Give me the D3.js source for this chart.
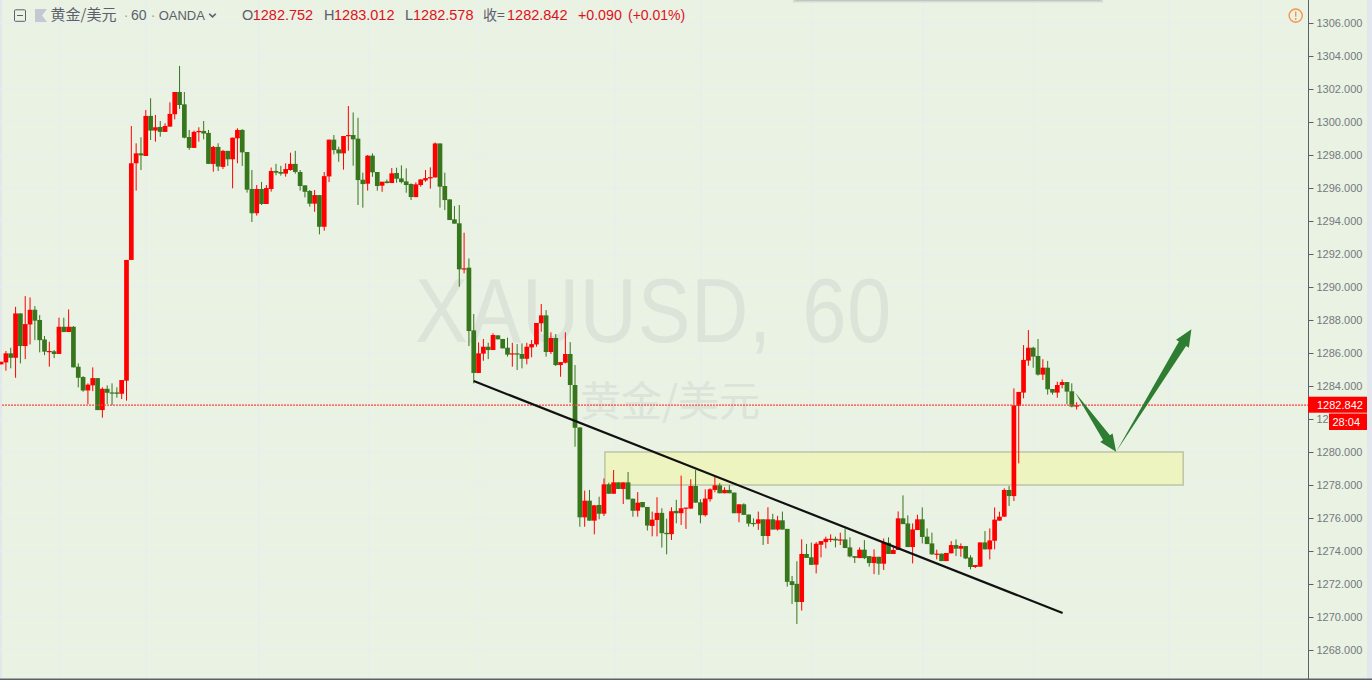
<!DOCTYPE html>
<html><head><meta charset="utf-8">
<style>html,body{margin:0;padding:0;background:#e9f2e3;overflow:hidden}svg{display:block}text{font-family:"Liberation Sans",Arial,sans-serif}</style>
<script src="https://cdnjs.cloudflare.com/ajax/libs/d3/7.8.5/d3.min.js"></script>
</head><body><svg id="c" width="1372" height="680"></svg>
<script>
const opens=[1285.31,1285.43,1285.98,1285.71,1288.40,1286.42,1287.73,1288.62,1288.00,1286.82,
1286.06,1286.10,1285.94,1287.59,1287.27,1287.59,1285.17,1284.54,1283.73,1284.04,
1284.48,1282.54,1283.83,1283.61,1283.61,1283.53,1284.32,1291.64,1297.50,1298.10,
1297.94,1300.37,1299.48,1299.70,1299.40,1299.72,1300.47,1301.82,1301.07,1299.09,
1298.43,1299.38,1299.46,1299.34,1297.46,1298.49,1297.28,1298.25,1297.74,1299.01,
1299.52,1298.18,1295.94,1294.47,1295.94,1295.03,1295.94,1297.03,1296.97,1296.87,
1297.09,1297.46,1296.97,1296.16,1295.82,1295.05,1295.57,1293.65,1296.70,1298.93,
1298.34,1298.10,1299.15,1299.21,1298.99,1296.50,1296.26,1297.96,1296.97,1296.14,
1296.40,1296.30,1296.91,1296.58,1296.40,1296.24,1295.45,1296.18,1296.46,1296.58,
1296.64,1298.70,1296.12,1295.31,1294.10,1293.86,1291.07,1291.17,1287.37,1284.79,
1285.96,1286.38,1286.18,1287.07,1286.85,1286.32,1285.92,1285.98,1285.94,1285.65,
1286.34,1286.52,1287.80,1288.28,1286.06,1286.91,1285.27,1285.41,1285.94,1284.06,
1281.49,1276.04,1277.05,1275.84,1276.79,1276.26,1278.04,1277.47,1278.16,1277.76,
1278.16,1277.17,1276.44,1276.97,1276.67,1275.52,1275.88,1276.31,1275.10,1275.02,
1276.43,1276.29,1276.57,1276.57,1277.94,1276.95,1276.17,1277.14,1277.70,1277.98,
1277.50,1277.70,1277.54,1276.29,1276.83,1276.21,1275.70,1275.66,1275.92,1274.91,
1275.92,1275.30,1275.86,1275.34,1272.17,1272.01,1270.91,1273.82,1273.62,1273.17,
1274.38,1274.54,1274.68,1274.74,1274.64,1274.70,1274.22,1273.69,1273.57,1274.08,
1273.69,1273.27,1273.65,1273.23,1274.50,1273.82,1274.06,1275.98,1275.67,1274.24,
1275.27,1275.92,1274.87,1274.46,1273.78,1273.84,1273.39,1273.86,1274.36,1274.14,
1274.30,1273.61,1273.03,1273.05,1274.52,1274.10,1274.62,1275.84,1276.08,1277.70,
1277.33,1282.79,1283.60,1285.54,1286.32,1285.82,1284.69,1285.11,1283.82,1283.60,
1284.06,1284.24,1283.68,1282.752];
const closes=[1285.47,1285.98,1285.71,1288.40,1286.42,1287.75,1288.62,1287.96,1286.78,1286.08,
1286.12,1285.94,1287.59,1287.27,1287.59,1285.13,1284.50,1283.73,1284.08,1284.48,
1282.54,1283.83,1283.59,1283.57,1283.53,1284.36,1291.64,1297.50,1298.10,1297.98,
1300.37,1299.48,1299.68,1299.40,1299.76,1300.49,1301.82,1301.03,1299.05,1298.43,
1299.40,1299.46,1299.30,1297.46,1298.49,1297.30,1298.25,1297.74,1299.05,1299.52,
1298.16,1295.90,1294.47,1295.94,1295.03,1296.00,1297.03,1296.93,1296.87,1297.15,
1297.46,1296.97,1296.12,1295.77,1295.05,1295.57,1293.65,1296.72,1298.93,1298.30,
1298.10,1299.15,1299.21,1298.95,1296.48,1296.24,1297.96,1296.95,1296.12,1296.38,
1296.30,1296.89,1296.56,1296.36,1296.18,1295.45,1296.22,1296.52,1296.60,1296.66,
1298.70,1296.08,1295.27,1294.06,1293.84,1291.07,1291.13,1287.33,1284.79,1285.98,
1286.38,1286.18,1287.09,1286.83,1286.28,1285.90,1285.98,1285.92,1285.65,1286.38,
1286.54,1287.82,1288.28,1286.06,1286.91,1285.27,1285.45,1285.94,1284.06,1281.47,
1276.04,1277.05,1275.84,1276.77,1276.26,1278.04,1277.47,1278.16,1277.76,1278.16,
1277.13,1276.44,1276.93,1276.65,1275.54,1275.90,1276.31,1275.08,1275.02,1276.41,
1276.29,1276.59,1276.63,1277.94,1276.93,1276.17,1277.18,1277.74,1277.98,1277.50,
1277.70,1277.50,1276.29,1276.83,1276.19,1275.66,1275.64,1275.92,1274.91,1275.92,
1275.30,1275.86,1275.30,1272.13,1271.94,1270.91,1273.82,1273.58,1273.16,1274.44,
1274.60,1274.74,1274.74,1274.64,1274.70,1274.18,1273.67,1273.59,1274.08,1273.57,
1273.27,1273.65,1273.23,1274.50,1273.82,1274.06,1275.98,1275.63,1274.24,1275.31,
1275.92,1274.85,1274.42,1273.80,1273.84,1273.39,1273.88,1274.36,1274.14,1274.30,
1273.55,1273.03,1273.15,1274.52,1274.10,1274.64,1275.90,1276.08,1277.70,1277.33,
1282.83,1283.64,1285.58,1286.32,1285.78,1284.69,1285.11,1283.80,1283.60,1284.06,
1284.24,1283.66,1282.75,1282.842];
const highs=[1285.47,1286.12,1286.32,1288.80,1288.40,1289.45,1289.37,1288.84,1288.30,1287.03,
1286.68,1286.18,1288.14,1288.14,1288.64,1287.63,1285.37,1284.60,1284.16,1285.13,
1284.48,1283.92,1284.04,1284.16,1283.92,1284.36,1291.64,1299.76,1298.71,1299.07,
1300.73,1301.44,1300.43,1300.06,1299.92,1301.19,1301.82,1303.40,1301.82,1299.52,
1299.48,1299.68,1300.06,1299.52,1298.55,1298.71,1298.31,1298.25,1299.05,1299.62,
1299.56,1298.18,1297.09,1296.18,1296.37,1296.18,1297.24,1297.46,1297.34,1297.50,
1298.14,1298.25,1297.09,1296.16,1295.88,1295.88,1295.57,1296.97,1298.93,1299.21,
1298.50,1299.15,1300.97,1300.58,1300.26,1296.93,1298.00,1298.10,1296.97,1296.38,
1296.52,1297.21,1297.23,1297.37,1297.19,1296.28,1296.34,1296.52,1297.09,1297.25,
1298.76,1298.70,1296.93,1295.31,1294.91,1294.97,1293.29,1291.73,1288.36,1286.64,
1286.85,1286.62,1287.19,1287.07,1286.85,1286.93,1286.62,1286.54,1286.58,1286.62,
1286.79,1287.82,1288.97,1288.60,1287.25,1287.15,1285.45,1287.25,1286.66,1285.27,
1281.49,1277.66,1277.70,1276.77,1277.29,1278.40,1278.14,1278.91,1278.16,1278.16,
1278.79,1277.17,1277.57,1276.97,1276.67,1276.39,1277.26,1276.59,1275.96,1276.65,
1277.10,1278.57,1276.63,1278.35,1278.91,1277.14,1277.74,1277.80,1278.51,1278.11,
1277.86,1277.98,1277.54,1276.83,1276.89,1276.21,1275.98,1276.39,1275.92,1276.65,
1276.25,1276.13,1276.39,1275.34,1272.49,1273.38,1274.71,1274.43,1274.51,1274.54,
1274.60,1274.87,1275.01,1274.87,1275.11,1275.35,1274.83,1273.69,1274.22,1274.66,
1273.69,1274.10,1273.65,1274.76,1274.83,1274.26,1276.40,1277.37,1276.16,1275.67,
1276.20,1276.64,1275.37,1275.11,1274.08,1273.84,1273.88,1274.60,1274.70,1274.46,
1274.30,1273.75,1273.15,1274.52,1275.21,1275.37,1276.64,1276.38,1277.80,1277.94,
1283.86,1283.64,1286.48,1287.39,1286.38,1286.85,1285.62,1285.52,1283.82,1284.26,
1284.40,1284.24,1284.16,1283.012];
const lows=[1285.31,1284.93,1285.07,1284.50,1285.37,1285.63,1286.52,1286.78,1286.04,1285.87,
1285.17,1285.69,1285.94,1287.27,1287.27,1285.13,1283.92,1283.65,1282.91,1283.69,
1282.54,1282.08,1282.91,1282.84,1283.29,1283.21,1283.11,1291.64,1295.84,1297.09,
1297.94,1298.91,1298.81,1299.11,1299.40,1299.72,1300.16,1300.79,1299.01,1298.31,
1298.43,1298.81,1298.95,1297.46,1296.99,1297.03,1297.15,1297.34,1295.98,1297.50,
1297.34,1295.72,1293.94,1294.33,1294.97,1295.03,1295.78,1296.77,1296.75,1296.69,
1297.05,1296.87,1295.84,1295.43,1294.87,1294.56,1293.19,1293.41,1296.36,1298.04,
1297.59,1297.11,1298.26,1297.35,1294.97,1294.81,1295.84,1296.68,1295.84,1295.77,
1296.28,1296.30,1296.32,1296.28,1295.71,1295.27,1295.45,1296.08,1296.38,1295.96,
1296.64,1294.81,1294.66,1294.06,1293.84,1290.02,1290.83,1286.42,1284.16,1284.79,
1285.53,1285.63,1286.18,1286.83,1286.28,1285.78,1285.17,1284.97,1285.07,1285.31,
1285.74,1286.38,1287.29,1285.78,1285.94,1285.21,1284.56,1285.37,1282.99,1280.32,
1275.47,1275.47,1275.84,1275.01,1275.92,1276.12,1277.47,1277.47,1277.76,1276.85,
1277.13,1276.08,1276.08,1276.65,1275.24,1274.89,1274.89,1274.21,1273.80,1274.67,
1275.68,1275.58,1275.34,1276.57,1276.93,1275.68,1276.09,1276.99,1277.56,1277.50,
1277.50,1277.50,1276.29,1275.74,1276.19,1275.48,1275.48,1275.28,1274.37,1274.43,
1275.30,1275.24,1275.30,1271.84,1270.79,1269.58,1270.39,1273.58,1273.16,1272.64,
1273.61,1274.16,1274.54,1274.22,1274.36,1274.18,1273.61,1273.27,1273.57,1273.51,
1273.05,1272.60,1272.56,1272.85,1273.82,1273.82,1274.06,1275.63,1274.24,1273.25,
1275.27,1274.46,1274.42,1273.76,1273.49,1273.39,1273.39,1273.86,1273.69,1273.65,
1273.51,1272.89,1272.97,1273.05,1274.10,1273.49,1274.10,1275.84,1276.08,1276.73,
1277.03,1279.31,1283.25,1285.23,1285.11,1284.63,1284.36,1283.48,1283.48,1283.29,
1283.86,1282.89,1282.71,1282.578];
const priceTicks=[1306,1304,1302,1300,1298,1296,1294,1292,1290,1288,1286,1284,1282,1280,1278,1276,1274,1272,1270,1268];
const gridBars=[12.2,30.05,53.5,76.3,99.3,127.3,145.1,168.1,191.2,214.2,242.2,261.2];
const zoneBars=[125.2,245.1], zonePrices=[1280,1278];
const trendBars=[98,220.1], trendPrices=[1284.3,1270.24];
const arrowBars=[222.7,231.2,246.8], arrowPrices=[1283.6,1280.02,1287.44];
const lastPrice=1282.842, countdown="28:04";
const watermark="XAUUSD, 60", watermarkSub="黄金/美元";

const svg=d3.select("#c");
const W=1372,H=680,axisX=1308.5;
const x=d3.scaleLinear().domain([0,223]).range([1.1,1076.6]);
const y=d3.scaleLinear().domain([1268,1306]).range([650,23]);
const bg="#e9f2e3",red="#ff0000",green="#38761d",grey="#5d606b";
svg.append("rect").attr("width",W).attr("height",H).attr("fill",bg);
svg.append("rect").attr("x",0).attr("y",0).attr("width",2).attr("height",H).attr("fill","#e2e7ec");
svg.append("rect").attr("x",1367).attr("y",0).attr("width",5).attr("height",H).attr("fill","#e2e7ee");
// grid
const gc="#e5eef0";
svg.append("g").selectAll("line").data(priceTicks).join("line")
 .attr("x1",0).attr("x2",axisX).attr("y1",d=>y(d)).attr("y2",d=>y(d)).attr("stroke",gc).attr("stroke-width",1);
svg.append("g").selectAll("line").data(gridBars).join("line")
 .attr("x1",d=>x(d)).attr("x2",d=>x(d)).attr("y1",0).attr("y2",H).attr("stroke",gc).attr("stroke-width",1);
svg.append("rect").attr("x",793).attr("y",0).attr("width",310).attr("height",2.5).attr("fill","#d5dad3");
svg.append("rect").attr("x",795).attr("y",0).attr("width",306).attr("height",1).attr("fill","#c2c6c2");
// watermark
svg.append("text").attr("transform","translate(415,342) scale(1,1.15)").attr("font-size",79).attr("letter-spacing",.8).attr("word-spacing",8).attr("fill","#dce3d9").text(watermark);
svg.append("text").attr("x",580).attr("y",416).attr("font-size",41).attr("fill","#dce3d9")
 .style("font-family","'Noto Sans CJK SC'").text(watermarkSub);
// zone
svg.append("rect").attr("x",x(zoneBars[0])).attr("y",y(zonePrices[0])).attr("width",x(zoneBars[1])-x(zoneBars[0]))
 .attr("height",y(zonePrices[1])-y(zonePrices[0])).attr("fill","#eef4bf").attr("stroke","#bcc4a8").attr("stroke-width",1.5);
// candles
const bars=d3.range(opens.length);
const col=i=>closes[i]>=opens[i]?red:green;
const g=svg.append("g");
g.selectAll(".w").data(bars).join("rect").attr("class","w")
 .attr("x",i=>x(i)-.5).attr("width",1).attr("y",i=>y(highs[i])).attr("height",i=>y(lows[i])-y(highs[i])).attr("fill",col);
g.selectAll(".b").data(bars).join("rect").attr("class","b")
 .attr("x",i=>x(i)-2.35).attr("width",4.7).attr("y",i=>y(Math.max(opens[i],closes[i])))
 .attr("height",i=>Math.max(1.2,Math.abs(y(opens[i])-y(closes[i])))).attr("fill",col);
// price line
svg.append("line").attr("x1",2).attr("x2",axisX).attr("y1",y(lastPrice)).attr("y2",y(lastPrice))
 .attr("stroke","#ff4040").attr("stroke-width",1.3).attr("stroke-dasharray","2 1");
// trend line
svg.append("line").attr("x1",x(trendBars[0])).attr("y1",y(trendPrices[0])).attr("x2",x(trendBars[1])).attr("y2",y(trendPrices[1]))
 .attr("stroke","#111").attr("stroke-width",2.2);
// arrows
function arrow(x0,y0,x1,y1){
 const L=Math.hypot(x1-x0,y1-y0),ux=(x1-x0)/L,uy=(y1-y0)/L,nx=-uy,ny=ux,h=17,w=7.5,s=4.2;
 const bx=x1-ux*h,by=y1-uy*h;
 return [[x0,y0],[bx+nx*s,by+ny*s],[bx+nx*w,by+ny*w],[x1,y1],[bx-nx*w,by-ny*w],[bx-nx*s,by-ny*s]];
}
const ap=arrowBars.map((b,i)=>[x(b),y(arrowPrices[i])]);
[[ap[0],ap[1]],[ap[1],ap[2]]].forEach(([a,b])=>{
 svg.append("polygon").attr("points",arrow(a[0],a[1],b[0],b[1]).map(p=>p.join(",")).join(" ")).attr("fill","#2e7d32");
});
// price axis
const axis=d3.axisRight(y).tickValues(priceTicks).tickFormat(d3.format(".3f")).tickSize(5).tickPadding(3);
const ax=svg.append("g").attr("transform",`translate(${axisX},0)`).call(axis);
ax.select(".domain").remove();
ax.selectAll("line").attr("stroke",grey);
ax.selectAll("text").attr("fill","#747980").attr("font-size",11).attr("font-family","'Liberation Sans',Arial,sans-serif");
svg.append("rect").attr("x",axisX-.5).attr("y",0).attr("width",1).attr("height",H).attr("fill",grey);
svg.append("rect").attr("x",0).attr("y",678.5).attr("width",W).attr("height",1.5).attr("fill",grey);
// last price labels
svg.append("rect").attr("x",1308).attr("y",y(lastPrice)-8.4).attr("width",59).attr("height",16).attr("fill",red);
svg.append("text").attr("x",1317).attr("y",y(lastPrice)+3.6).attr("font-size",11).attr("fill","#fff").text(d3.format(".3f")(lastPrice));
svg.append("rect").attr("x",1329).attr("y",413.5).attr("width",38).attr("height",16.5).attr("fill",red);
svg.append("text").attr("x",1332.5).attr("y",425.5).attr("font-size",11).attr("fill","#fff").text(countdown);
// header
const hy=20;
svg.append("rect").attr("x",14.5).attr("y",9.8).attr("width",11).attr("height",11.5).attr("rx",1).attr("fill","none").attr("stroke",grey);
svg.append("line").attr("x1",17).attr("x2",23).attr("y1",15.5).attr("y2",15.5).attr("stroke",grey);
svg.append("polygon").attr("points","35,9 47,9 42,15.5 47,22 35,22").attr("fill","#c4c8d0");
const hdr=(xp,t,c,fam,fs)=>{const s=svg.append("text").attr("x",xp).attr("y",hy).attr("font-size",fs||14.5).attr("fill",c).text(t);if(fam)s.style("font-family",fam);return s;};
hdr(50.5,"黄金/美元",grey,"'Noto Sans CJK SC'",15);
hdr(123.8,"·","#9a9da5",null,14);
hdr(131,"60",grey,null,14);
hdr(150.8,"·","#9a9da5",null,14);
hdr(158.7,"OANDA",grey,null,13);
svg.append("path").attr("d","M209.2,13.7 l3.3,3.2 l3.3,-3.2").attr("fill","none").attr("stroke",grey).attr("stroke-width",1.6);
const tr="#e0101c";
hdr(242,"O",grey);hdr(252.7,"1282.752",tr);
hdr(324,"H",grey);hdr(334,"1283.012",tr);
hdr(405,"L",grey);hdr(413,"1282.578",tr);
hdr(483,"收=",grey,"'Noto Sans CJK SC'",14);hdr(507,"1282.842",tr);
hdr(578,"+0.090",tr,null,14.2);hdr(628,"(+0.01%)",tr,null,14);
// alert icon
svg.append("circle").attr("cx",1295.7).attr("cy",15.6).attr("r",6.6).attr("fill","none").attr("stroke","#f7944d").attr("stroke-width",1.4);
svg.append("line").attr("x1",1295.7).attr("x2",1295.7).attr("y1",11.5).attr("y2",16.8).attr("stroke","#f7944d").attr("stroke-width",1.4);
svg.append("circle").attr("cx",1295.7).attr("cy",19).attr("r",.9).attr("fill","#f7944d");
</script></body></html>
